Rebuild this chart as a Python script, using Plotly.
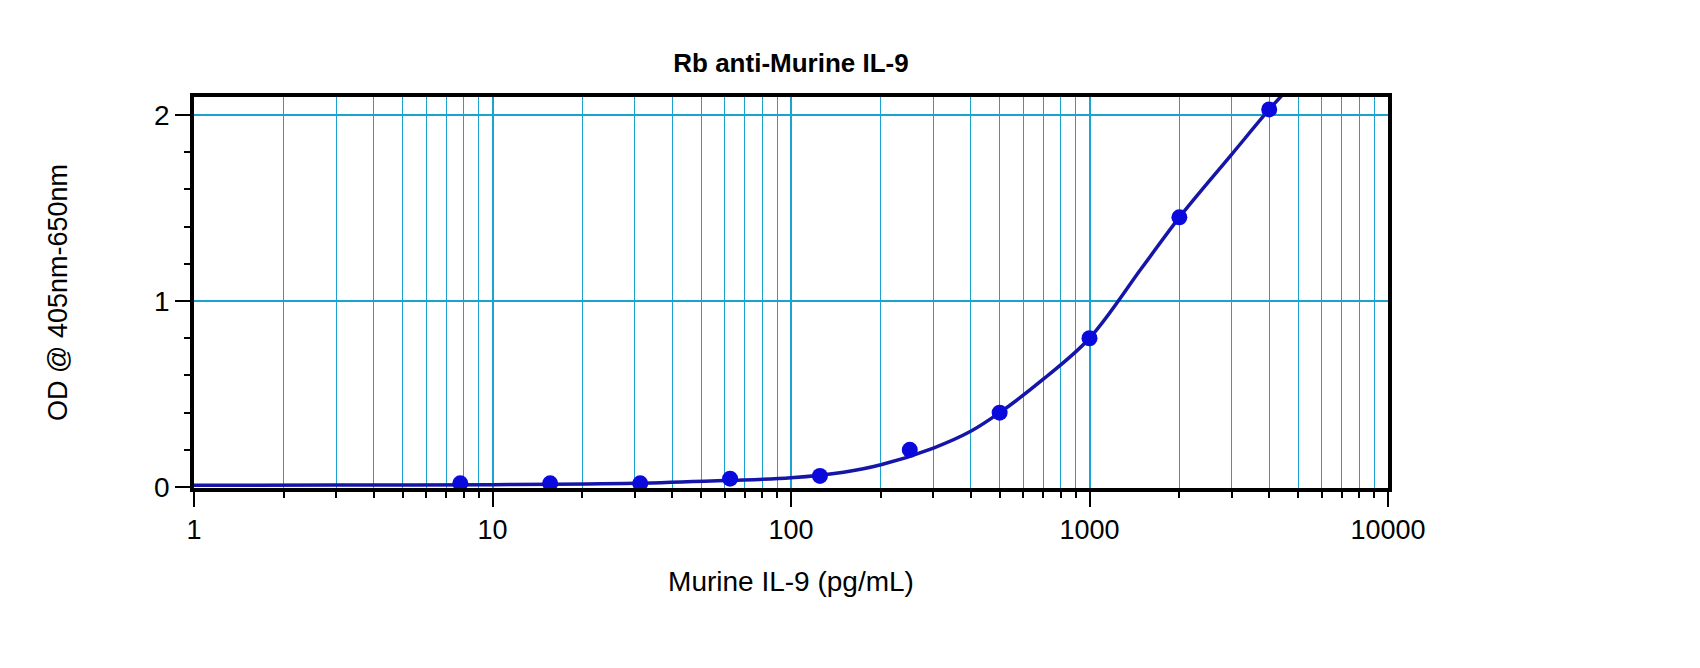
import plotly.graph_objects as go

# Standard concentrations (pg/mL) and measured OD
conc = [7.8, 15.6, 31.25, 62.5, 125, 250, 500, 1000, 2000, 4000]
od = [0.02, 0.02, 0.02, 0.045, 0.06, 0.2, 0.4, 0.8, 1.45, 2.03]

# Fitted curve, points
curve_x = [1, 3, 10, 30, 60, 100, 150, 200, 300, 400, 500, 700, 1000, 1500, 2000, 3000, 4000, 4500]
curve_y = [0.01, 0.011, 0.013, 0.02, 0.035, 0.05, 0.08, 0.12, 0.21, 0.30, 0.40, 0.58, 0.80, 1.18, 1.45, 1.79, 2.03, 2.12]

title_text = "Rb anti-Murine IL-9"
x_title = "Murine IL-9 (pg/mL)"
y_title = "OD @ 405nm-650nm"
x_ticks = [1, 10, 100, 1000, 10000]
x_ticklabels = ["1", "10", "100", "1000", "10000"]
y_ticks = [0, 1, 2]

grid_col = "#1BA3CF"
font_fam = "Arial, Liberation Sans, sans-serif"

fig = go.Figure()
fig.add_trace(go.Scatter(x=curve_x, y=curve_y, mode="lines",
                         line=dict(color="#1515A8", width=3.5, shape="spline"),
                         hoverinfo="skip", showlegend=False))
fig.add_trace(go.Scatter(x=conc, y=od, mode="markers",
                         marker=dict(color="#0A0ADC", size=16),
                         showlegend=False))

fig.update_layout(
    width=1700, height=668,
    paper_bgcolor="white", plot_bgcolor="white",
    margin=dict(l=186, r=320, t=89, b=188),
    font=dict(family=font_fam, color="black", size=28),
    title=dict(text="<b>" + title_text + "</b>", x=783 / 1700, xanchor="center",
               y=1 - 55 / 668, yanchor="middle", font=dict(size=26)),
)
fig.update_xaxes(
    type="log", range=[0, 4], tickvals=x_ticks, ticktext=x_ticklabels,
    showgrid=True, gridcolor=grid_col, gridwidth=1.8,
    showline=True, linecolor="black", linewidth=3.5, mirror=True,
    ticks="outside", ticklen=15, tickwidth=2, tickcolor="black",
    tickfont=dict(size=27),
    minor=dict(dtick="D1", showgrid=True, gridcolor=grid_col, gridwidth=1.4,
               ticks="outside", ticklen=6, tickwidth=1.5, tickcolor="black"),
    title=dict(text=x_title, font=dict(size=28), standoff=28),
    zeroline=False,
)
fig.update_yaxes(
    range=[-0.005, 2.097], tickvals=y_ticks,
    showgrid=True, gridcolor=grid_col, gridwidth=1.8,
    showline=True, linecolor="black", linewidth=3.5, mirror=True,
    ticks="outside", ticklen=15, tickwidth=2, tickcolor="black",
    tickfont=dict(size=28),
    minor=dict(dtick=0.2, ticks="outside", ticklen=6, tickwidth=1.5,
               tickcolor="black", showgrid=False),
    title=dict(text=y_title, font=dict(size=27), standoff=80),
    zeroline=False,
)

fig.write_html("out.html")
